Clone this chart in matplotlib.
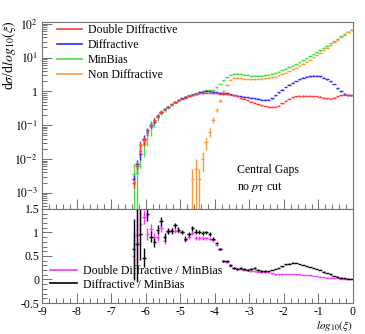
import matplotlib
matplotlib.use('Agg')
import matplotlib.pyplot as plt
from matplotlib.lines import Line2D
from matplotlib.ticker import FixedLocator, MultipleLocator, LogLocator, NullFormatter, FormatStrFormatter
import numpy as np

plt.rcParams['font.family'] = ['Liberation Serif', 'DejaVu Serif']
plt.rcParams['mathtext.fontset'] = 'stix'
plt.rcParams['font.size'] = 8.5
plt.rcParams['axes.unicode_minus'] = False

# bins de 0.1 en log10(xi)
x_bins = np.linspace(-6.35, -0.05, 64)
x_nd = np.linspace(-4.65, -0.05, 47)

# log10 de dsigma/dlog10(xi)
log_dd = [-2.7, -2.2, -1.6, -1.45, -1.2, -0.98, -0.85, -0.72, -0.6, -0.52, -0.45, -0.38, -0.32, -0.26,
          -0.22, -0.18, -0.15, -0.12, -0.09, -0.06, -0.05, -0.04, -0.04, -0.05,
          -0.06, -0.07, -0.08, -0.09, -0.1, -0.12, -0.15, -0.18, -0.22, -0.26, -0.3, -0.34, -0.38, -0.41, -0.43,
          -0.45, -0.45, -0.45, -0.42, -0.35, -0.28, -0.22, -0.17, -0.14, -0.13, -0.13, -0.13, -0.13, -0.14,
          -0.15, -0.16, -0.18, -0.2, -0.21, -0.18, -0.14, -0.11, -0.1, -0.1, -0.11]
log_diff = [-2.6, -2.15, -1.85, -1.4, -1.15, -1.0, -0.9, -0.72, -0.62, -0.52, -0.45, -0.38, -0.3, -0.25,
            -0.2, -0.16, -0.13, -0.1, -0.07, -0.03, -0.02, 0.0, 0.0, -0.01,
            -0.03, -0.04, -0.05, -0.06, -0.08, -0.11, -0.13, -0.15, -0.16, -0.17, -0.19, -0.2, -0.22, -0.24, -0.25,
            -0.24, -0.2, -0.12, -0.03, 0.05, 0.13, 0.2, 0.26, 0.31, 0.36, 0.4, 0.43, 0.45, 0.46,
            0.46, 0.45, 0.41, 0.36, 0.3, 0.22, 0.1, 0.0, -0.07, -0.11, -0.12]
log_mb = [-2.45, -2.4, -1.75, -1.55, -1.3, -1.05, -0.88, -0.76, -0.64, -0.55, -0.47, -0.4, -0.33, -0.27,
          -0.21, -0.16, -0.12, -0.09, -0.05, -0.01, 0.02, 0.04, 0.04, 0.05,
          0.12, 0.22, 0.33, 0.42, 0.5, 0.53, 0.53, 0.52, 0.5, 0.49, 0.47, 0.47, 0.46, 0.47, 0.48,
          0.5, 0.52, 0.55, 0.59, 0.63, 0.67, 0.71, 0.76, 0.81, 0.86, 0.92, 0.98, 1.04, 1.1,
          1.16, 1.22, 1.29, 1.35, 1.42, 1.49, 1.56, 1.63, 1.7, 1.77, 1.83]
log_nd = [-2.6, -2.3, -2.6, -2.0, -1.5, -1.2, -0.85, -0.55, -0.27, 0.0, 0.19, 0.35, 0.4, 0.41, 0.4,
          0.38, 0.37, 0.36, 0.36, 0.37, 0.38, 0.39,
          0.4, 0.42, 0.44, 0.48, 0.52, 0.56, 0.6, 0.65, 0.7, 0.76, 0.82, 0.88, 0.94, 1.01,
          1.08, 1.15, 1.22, 1.29, 1.37, 1.45, 1.53, 1.61, 1.68, 1.76, 1.82]

# errores relativos
err_dd = [0.3, 0.35, 0.4, 0.3, 0.2, 0.2, 0.15, 0.12, 0.1, 0.08, 0.06, 0.05, 0.04, 0.04] + [0.03] * 50
err_diff = [0.3, 0.3, 0.35, 0.3, 0.2, 0.2, 0.15, 0.12, 0.1, 0.08, 0.06, 0.05, 0.04, 0.04] + [0.03] * 50
err_mb = [1.0, 1.0, 0.7, 0.6, 0.5, 0.45, 0.35, 0.25, 0.15, 0.1, 0.08, 0.06, 0.05, 0.04] + [0.03] * 50
err_nd = [1.0, 1.0, 1.0, 0.6, 0.4, 0.3, 0.2, 0.15, 0.1, 0.08, 0.05] + [0.03] * 36

# cocientes respecto a MinBias
ratio_diff = [0.64, 0.75, 0.97, 0.46, 1.4, 0.91, 0.79, 1.06, 1.24, 0.9, 1.03, 1.03, 1.15, 1.06,
              1.01, 0.87, 0.97, 1.09, 1.02, 1.01, 0.99, 1.0, 0.97, 0.87,
              0.77, 0.64, 0.4, 0.39, 0.3, 0.25, 0.23, 0.24, 0.22, 0.21, 0.22, 0.24, 0.2, 0.19, 0.19,
              0.18, 0.2, 0.22, 0.25, 0.28, 0.32, 0.34, 0.36, 0.35, 0.33, 0.31, 0.29, 0.27, 0.25,
              0.22, 0.2, 0.17, 0.14, 0.11, 0.08, 0.06, 0.04, 0.03, 0.02, 0.01]
ratio_dd = [0.51, 0.95, 1.18, 1.33, 0.97, 1.08, 0.9, 0.9, 1.1, 0.81, 1.02, 1.05, 1.04, 1.04,
            1.0, 0.84, 0.9, 0.99, 0.88, 0.88, 0.88, 0.88, 0.87, 0.83,
            0.74, 0.64, 0.4, 0.38, 0.29, 0.24, 0.22, 0.22, 0.21, 0.2, 0.19, 0.18, 0.17, 0.16, 0.16,
            0.15, 0.13, 0.11, 0.11, 0.11, 0.12, 0.12, 0.12, 0.11, 0.11, 0.1, 0.1, 0.09, 0.08,
            0.07, 0.06, 0.05, 0.04, 0.04, 0.03, 0.03, 0.02, 0.02, 0.01, 0.01]
ratio_err_diff = [0.65, 0.8, 0.55, 0.2, 0.15, 0.12, 0.1, 0.1, 0.1, 0.08, 0.06, 0.06, 0.06, 0.06,
                  0.05, 0.05, 0.05, 0.05, 0.05, 0.05, 0.05, 0.04, 0.04, 0.04] + [0.02] * 15 + [0.005] * 25
ratio_err_dd = [0.5, 0.6, 0.45, 0.15, 0.12, 0.1, 0.08, 0.08, 0.08, 0.06, 0.05, 0.05, 0.05, 0.05,
                0.04, 0.04, 0.04, 0.04, 0.04, 0.04, 0.04, 0.03, 0.03, 0.03] + [0.02] * 15 + [0.005] * 25

c_dd = '#ff3a3a'
c_diff = '#2b2bff'
c_mb = '#44e044'
c_nd = '#ff9a3c'
c_rdd = '#ff33ff'
c_rdiff = '#000000'


def dibuja_log(ax, x, logv, rel, color):
    y = 10 ** np.array(logv)
    rel = np.array(rel)
    lo = y * np.minimum(rel, 0.999)
    hi = y * rel
    ax.errorbar(x, y, xerr=0.05, yerr=[lo, hi], fmt='none', ecolor=color, elinewidth=1.0, capsize=0)


def dibuja_lin(ax, x, y, err, color):
    ax.errorbar(x, y, xerr=0.05, yerr=err, fmt='none', ecolor=color, elinewidth=1.0, capsize=0)


fig = plt.figure(figsize=(3.65, 3.34), dpi=100)
ax1 = fig.add_axes([0.1151, 0.3743, 0.852, 0.5613])
ax2 = fig.add_axes([0.1151, 0.0928, 0.852, 0.2815])

# panel superior
dibuja_log(ax1, x_bins, log_mb, err_mb, c_mb)
dibuja_log(ax1, x_nd, log_nd, err_nd, c_nd)
dibuja_log(ax1, x_bins, log_diff, err_diff, c_diff)
dibuja_log(ax1, x_bins, log_dd, err_dd, c_dd)

ax1.set_yscale('log')
ax1.set_xlim(-9, 0)
ax1.set_ylim(10 ** -3.48, 10 ** 2.07)
ax1.yaxis.set_major_locator(FixedLocator([1e-3, 1e-2, 1e-1, 1, 10, 100]))
ax1.set_yticklabels(['$10^{-3}$', '$10^{-2}$', '$10^{-1}$', '1', '$10^{1}$', '$10^{2}$'])
ax1.yaxis.set_minor_locator(LogLocator(subs=np.arange(2, 10)))
ax1.yaxis.set_minor_formatter(NullFormatter())
ax1.xaxis.set_major_locator(MultipleLocator(1))
ax1.xaxis.set_minor_locator(MultipleLocator(0.2))
ax1.tick_params(which='both', direction='in', top=False, right=False, labelbottom=False,
                width=0.6, color='0.35', pad=3)
ax1.tick_params(which='major', length=7)
ax1.tick_params(which='minor', length=3.5)

leg1 = [Line2D([], [], color=c_dd, lw=1.2), Line2D([], [], color=c_diff, lw=1.2),
        Line2D([], [], color=c_mb, lw=1.2), Line2D([], [], color=c_nd, lw=1.2)]
ax1.legend(leg1, ['Double Diffractive', 'Diffractive', 'MinBias', 'Non Diffractive'],
           loc='upper left', bbox_to_anchor=(0.048, 0.985), frameon=False, borderpad=0,
           borderaxespad=0, handlelength=2.1, handletextpad=0.5, labelspacing=0.25)

ax1.text(0.627, 0.208, 'Central Gaps', transform=ax1.transAxes, va='center')
ax1.text(0.627, 0.117, r'no $p_\mathrm{T}$ cut', transform=ax1.transAxes, va='center')

# panel de cocientes
dibuja_lin(ax2, x_bins, ratio_dd, ratio_err_dd, c_rdd)
dibuja_lin(ax2, x_bins, ratio_diff, ratio_err_diff, c_rdiff)

ax2.set_xlim(-9, 0)
ax2.set_ylim(-0.5, 1.5)
ax2.yaxis.set_major_locator(MultipleLocator(0.5))
ax2.yaxis.set_minor_locator(MultipleLocator(0.1))
ax2.yaxis.set_major_formatter(FormatStrFormatter('%g'))
ax2.xaxis.set_major_locator(MultipleLocator(1))
ax2.xaxis.set_minor_locator(MultipleLocator(0.2))
ax2.xaxis.set_major_formatter(FormatStrFormatter('%g'))
ax2.tick_params(which='both', direction='in', top=False, right=False, width=0.6, color='0.35', pad=2)
ax2.tick_params(which='major', length=7)
ax2.tick_params(which='minor', length=3.5)

leg2 = [Line2D([], [], color=c_rdd, lw=1.2), Line2D([], [], color=c_rdiff, lw=1.2)]
ax2.legend(leg2, ['Double Diffractive / MinBias', 'Diffractive / MinBias'],
           loc='upper left', bbox_to_anchor=(0.026, 0.40), frameon=False, borderpad=0,
           borderaxespad=0, handlelength=2.3, handletextpad=0.5, labelspacing=0.1)

for ax in (ax1, ax2):
    for s in ax.spines.values():
        s.set_color('0.45')
        s.set_linewidth(0.8)

fig.text(0.025, 0.94, r'd$\sigma$/d$log_{10}(\xi)$', rotation=90, ha='center', va='top', fontsize=10)
fig.text(0.967, 0.003, r'$log_{10}(\xi)$', ha='right', va='bottom', fontsize=8)

fig.savefig('out.png', dpi=100)
